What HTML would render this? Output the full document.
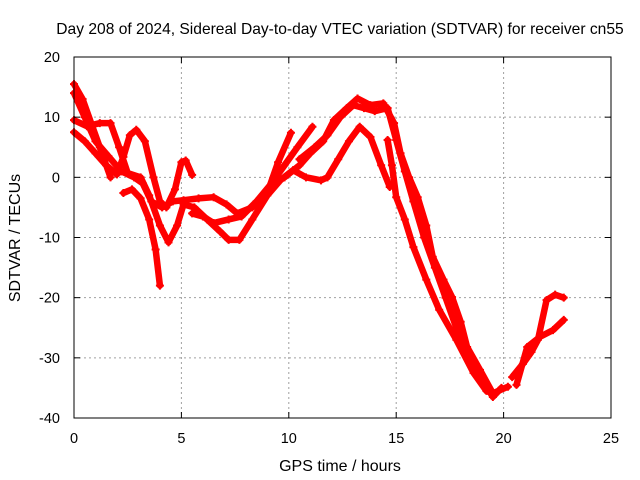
<!DOCTYPE html>
<html><head><meta charset="utf-8"><style>
body{margin:0;background:#fff}
svg{display:block;font-family:"Liberation Sans",sans-serif}
</style></head><body>
<svg id="chart" width="640" height="480">
<text x="340" y="34" text-anchor="middle" font-size="15.6">Day 208 of 2024, Sidereal Day-to-day VTEC variation (SDTVAR) for receiver cn55</text>
<text x="340" y="471" text-anchor="middle" font-size="16">GPS time / hours</text>
<text transform="translate(20,238) rotate(-90)" text-anchor="middle" font-size="16">SDTVAR / TECUs</text>
<g id="grid"></g>
<g id="series"></g>
<rect x="74" y="57" width="537" height="361" fill="none" stroke="#000" stroke-width="1"/>
<g id="ticks"></g>
</svg>
<script>
const xTicks=[0,5,10,15,20,25];
const yTicks=[20,10,0,-10,-20,-30,-40];
const t1=[[0,15.5],[0.4,13],[0.8,9],[1.2,5],[1.7,0]];
const t2=[[0,9.5],[0.6,8.5],[1.2,9],[1.7,9],[2.1,5],[2.5,0.7],[3.1,0],[3.5,-3],[4,-8],[4.4,-10.8],[4.8,-8],[5.1,-4.5],[5.6,-5],[6.2,-7],[6.8,-9],[7.2,-10.4],[7.7,-10.4],[8.3,-7],[9,-3],[9.6,-0.5],[10.2,1.2],[10.8,0],[11.5,-0.5],[11.8,0],[12.3,3],[12.8,6],[13.3,8.4],[13.8,6.7],[14.3,2],[14.7,-1.6]];
const t3=[[0,7.5],[0.5,6],[1,4],[1.5,2],[2,0.5],[2.3,3.4],[2.6,7],[2.9,7.9],[3.3,6],[3.7,0],[4,-4],[4.3,-5],[4.7,-2],[5.0,2.5],[5.2,2.8],[5.5,0.4]];
const t4=[[2.3,-2.6],[2.7,-2],[3.1,-3.5],[3.5,-7],[3.8,-12],[4.0,-18]];
const t5=[[0,14],[0.5,10],[1,6],[1.6,3.5],[2.2,1],[2.8,0],[3.2,-1],[3.6,-4],[4.1,-5],[4.6,-4],[5.1,-3.8],[5.8,-3.5],[6.5,-3.3],[7.1,-4.5],[7.6,-6],[8.3,-5],[9,-2.6],[9.5,2.5],[10.1,7.4]];
const t6=[[5.5,-6],[6,-6.5],[6.5,-7.6],[7.2,-7],[7.8,-6.5],[8.5,-4],[9.2,-1],[9.8,2],[10.4,5],[11.1,8.4]];
const t7=[[9.8,0],[10.5,2],[11,4],[11.6,6],[12.1,9.5],[12.7,11.5],[13.2,13.1],[13.8,12],[14.4,12.3],[14.9,9],[15.2,4],[15.6,0],[16,-3.3],[16.4,-8],[16.7,-13.2],[17.2,-17],[17.6,-19.9],[18,-24],[18.3,-28.2],[18.9,-32],[19.5,-35.9],[20.2,-34.8]];
const t8=[[10.5,3],[11.2,5],[11.8,7],[12.4,10],[13,12],[13.5,11.5],[14,11],[14.6,11.5],[15,6.2],[15.4,1],[15.8,-4],[16.3,-10],[16.8,-15],[17.3,-20],[17.8,-25],[18.3,-29],[18.9,-33],[19.5,-36.5],[19.9,-35]];
const t9=[[14.6,6.2],[14.8,2],[15,-3.3],[15.4,-7],[15.8,-11.6],[16.4,-17],[17,-22],[17.8,-27],[18.6,-32.5],[19.2,-35.5],[19.6,-36]];
const t10=[[20.4,-33.2],[20.9,-31],[21.3,-29],[21.6,-27],[22,-20.4],[22.4,-19.5],[22.8,-20]];
const t11=[[20.6,-34.5],[21.1,-28.2],[21.7,-26.5],[22.3,-25.4],[22.8,-23.7]];
const tracks=[t1,t2,t3,t4,t5,t6,t7,t8,t9,t10,t11];
const NS="http://www.w3.org/2000/svg";
const X=v=>74+v*537/25, Y=v=>57+(20-v)*361/60;
const grid=document.getElementById('grid'),ticks=document.getElementById('ticks'),ser=document.getElementById('series');
function mk(tag,at,p){const e=document.createElementNS(NS,tag);for(const k in at)e.setAttribute(k,at[k]);p.appendChild(e);return e;}
xTicks.forEach(t=>{const x=X(t);
 if(t>0&&t<25){const g=mk('line',{x1:x,x2:x,y1:57,y2:418,stroke:'#a0a0a0','stroke-dasharray':'2,3'},grid);
 
 }
 const a=mk('line',{x1:x,x2:x,y1:418,y2:412,stroke:'#000'},ticks);
 
 
 const b=mk('line',{x1:x,x2:x,y1:57,y2:63,stroke:'#000'},ticks);
 
 
 const l=mk('text',{x:x,y:443,'text-anchor':'middle','font-size':14.5},ticks);l.textContent=t;
 
 });
yTicks.forEach(t=>{const y=Y(t);
 if(t<20&&t>-40){const g=mk('line',{x1:74,x2:611,y1:y,y2:y,stroke:'#a0a0a0','stroke-dasharray':'2,3'},grid);
 
 }
 const a=mk('line',{x1:74,x2:80,y1:y,y2:y,stroke:'#000'},ticks);
 
 
 const b=mk('line',{x1:605,x2:611,y1:y,y2:y,stroke:'#000'},ticks);
 
 
 const l=mk('text',{x:60,y:y+5,'text-anchor':'end','font-size':14.5},ticks);l.textContent=t;
 
 });
tracks.forEach((tr,i)=>{
 const pl=mk('polyline',{points:tr.map(p=>X(p[0])+','+Y(p[1])).join(' '),fill:'none',stroke:'#ff0000','stroke-width':6.5,'stroke-linejoin':'round','stroke-linecap':'round'},ser);
 
 
 tr.forEach(p=>{const x=X(p[0]),y=Y(p[1]);
  const m=mk('path',{d:`M${x-4},${y}H${x+4}M${x},${y-4}V${y+4}`,stroke:'#ff0000','stroke-width':2},ser);
  
  });
});
</script>
</body></html>
